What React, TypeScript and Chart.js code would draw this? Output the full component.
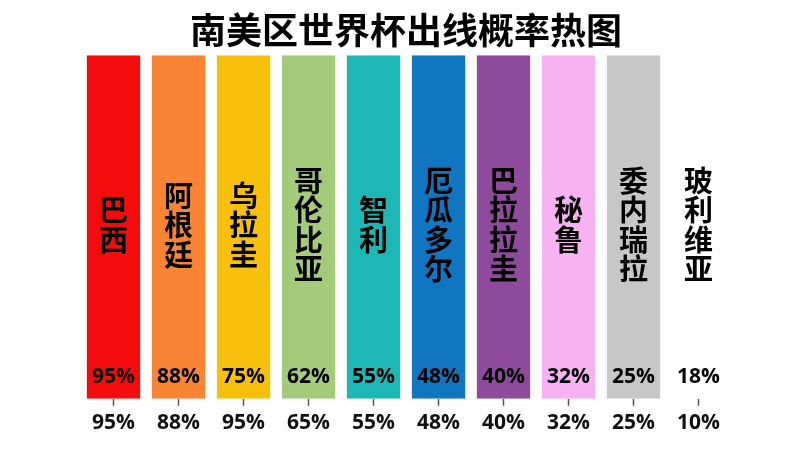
import { useEffect, useRef } from 'react';
import { Chart, registerables, type ChartConfiguration, type Plugin } from 'chart.js';

Chart.register(...registerables);

/* ─── Data ─────────────────────────────────────────────────────────────── */

const TITLE = '南美区世界杯出线概率热图';

const countries = ['巴西', '阿根廷', '乌拉圭', '哥伦比亚', '智利', '厄瓜多尔', '巴拉拉圭', '秘鲁', '委内瑞拉', '玻利维亚'];

// probability printed inside each bar
const probabilities = [95, 88, 75, 62, 55, 48, 40, 32, 25, 18];

// axis tick labels under each bar
const tickLabels = ['95%', '88%', '95%', '65%', '55%', '48%', '40%', '32%', '25%', '10%'];

// every cell of the heat strip runs the full height
const barHeights = [100, 100, 100, 100, 100, 100, 100, 100, 100, 100];

const barColours = [
  '#F40C0C', '#F98534', '#F8C00C', '#A4CB7A', '#1DB8B5',
  '#1076C2', '#8E4B9B', '#F7B3F1', '#C7C7C7', '#FFFFFF',
];

const FONT = "'Noto Sans CJK SC', 'Noto Sans', sans-serif";
const NUM_FONT = "'Open Sans', 'Noto Sans', sans-serif";

/* ─── Plugin: vertical names + in-bar percentages ──────────────────────── */

const barText: Plugin<'bar'> = {
  id: 'barText',
  afterDatasetsDraw(chart) {
    const { ctx } = chart;
    const meta = chart.getDatasetMeta(0);
    ctx.save();
    ctx.fillStyle = '#000';
    ctx.textAlign = 'center';
    ctx.textBaseline = 'middle';
    meta.data.forEach((bar, i) => {
      const x = bar.x;
      // name, one character per line, centred around y=225
      const chars = Array.from(countries[i]);
      const step = 29.5;
      const top = 225 - ((chars.length - 1) * step) / 2;
      ctx.font = `bold 29px ${FONT}`;
      chars.forEach((c, k) => ctx.fillText(c, x, top + k * step));
      // probability near the bottom of the bar
      ctx.font = `bold 21px ${NUM_FONT}`;
      ctx.fillText(`${probabilities[i]}%`, x, chart.chartArea.bottom - 22);
    });
    ctx.restore();
  },
};

/* ─── Component ────────────────────────────────────────────────────────── */

export default function App() {
  const canvasRef = useRef<HTMLCanvasElement>(null);

  useEffect(() => {
    document.body.style.margin = '0';
    if (!canvasRef.current) return;

    const config: ChartConfiguration<'bar'> = {
      type: 'bar',
      data: {
        labels: tickLabels,
        datasets: [
          {
            data: barHeights,
            backgroundColor: barColours,
            borderWidth: 0,
            categoryPercentage: 1,
            barPercentage: 0.82,
          },
        ],
      },
      options: {
        responsive: false,
        animation: false,
        layout: { padding: { left: 81, right: 69, top: 0, bottom: 9 } },
        plugins: {
          legend: { display: false },
          tooltip: { enabled: false },
          title: {
            display: true,
            text: TITLE,
            color: '#000',
            font: { family: FONT, size: 36, weight: 'bold', lineHeight: 1.2 },
            padding: { top: 9, bottom: 3 },
          },
        },
        scales: {
          x: {
            border: { display: false },
            grid: {
              display: true,
              drawOnChartArea: false,
              drawTicks: true,
              tickLength: 7,
              tickWidth: 1.5,
              tickColor: '#555',
              offset: false,
            },
            ticks: {
              color: '#111',
              padding: 5,
              font: { family: NUM_FONT, size: 21, weight: 'bold' },
            },
          },
          y: { display: false, min: 0, max: 100 },
        },
      },
      plugins: [barText],
    };

    const chart = new Chart(canvasRef.current, config);
    return () => chart.destroy();
  }, []);

  return (
    <div style={{ width: 800, height: 450, background: '#fff' }}>
      <canvas ref={canvasRef} width={800} height={450} />
    </div>
  );
}
